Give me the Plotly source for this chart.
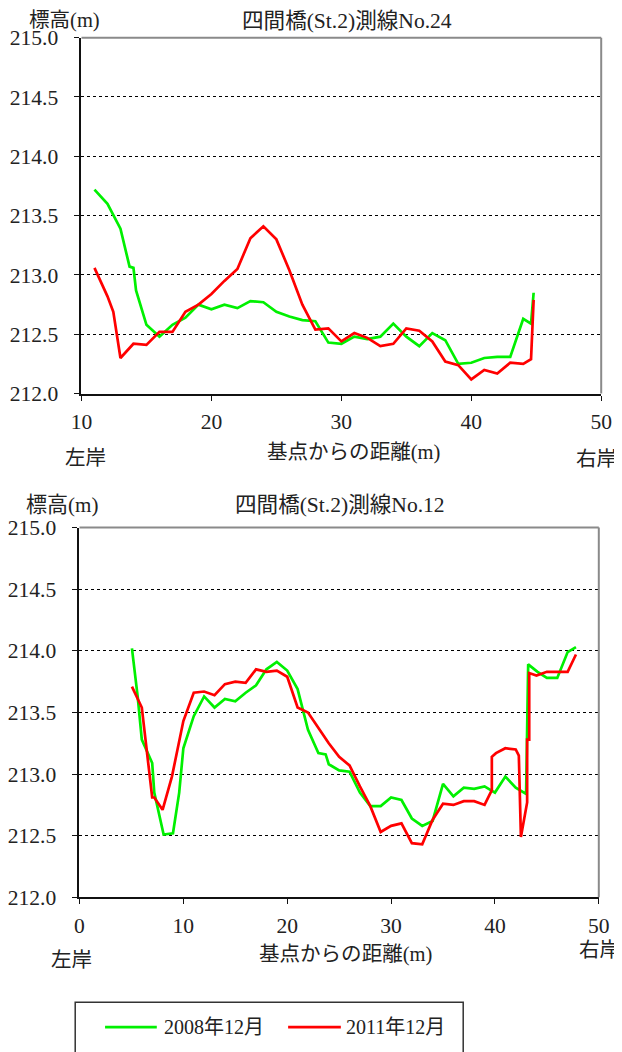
import plotly.graph_objects as go

# ---------- data: 四間橋(St.2) 測線No.24 ----------
no24_x_2008 = [11, 12, 13, 13.7, 14.0, 14.2, 15, 16, 17, 18, 19, 20, 21, 22, 23, 24, 25, 26, 27, 28,
               29, 30, 31, 32, 33, 34, 35, 36, 37, 38, 39, 40, 41, 42, 43, 44, 44.6, 44.8]
no24_y_2008 = [213.72, 213.60, 213.39, 213.07, 213.06, 212.87, 212.58, 212.48, 212.58, 212.64,
               212.75, 212.71, 212.75, 212.72, 212.78, 212.77, 212.69, 212.65, 212.62, 212.61,
               212.43, 212.42, 212.48, 212.46, 212.48, 212.59, 212.48, 212.40, 212.51, 212.45,
               212.25, 212.26, 212.30, 212.31, 212.31, 212.63, 212.59, 212.85]
no24_x_2011 = [11, 12, 12.45, 13, 14, 15, 16, 17, 18, 19, 20, 21, 22, 23, 24, 25, 26, 27, 28, 29,
               30, 31, 32, 33, 34, 35, 36, 37, 38, 39, 40, 41, 42, 43, 44, 44.6, 44.8]
no24_y_2011 = [213.06, 212.82, 212.69, 212.30, 212.42, 212.41, 212.52, 212.52, 212.69, 212.75,
               212.84, 212.95, 213.05, 213.31, 213.41, 213.30, 213.04, 212.75, 212.54, 212.55,
               212.44, 212.51, 212.47, 212.40, 212.42, 212.55, 212.53, 212.44, 212.27, 212.24,
               212.12, 212.20, 212.17, 212.26, 212.25, 212.29, 212.79]

# ---------- data: 四間橋(St.2) 測線No.12 ----------
no12_x_2008 = [5.05, 5.6, 6.0, 7.0, 7.2, 8.1, 9.0, 9.6, 10, 11, 12, 13, 14, 15, 16, 17, 18, 19, 20,
               21, 22, 23, 23.7, 24, 25, 26, 27, 28, 29, 30, 31, 32, 33, 34, 35, 36, 37, 38, 39,
               40, 41, 42, 43, 43.2, 44.1, 45, 46, 47, 47.8]
no12_y_2008 = [214.02, 213.63, 213.28, 213.09, 212.85, 212.51, 212.52, 212.85, 213.21, 213.47,
               213.63, 213.54, 213.61, 213.59, 213.66, 213.72, 213.85, 213.91, 213.84, 213.69,
               213.36, 213.17, 213.16, 213.08, 213.03, 213.02, 212.85, 212.74, 212.74, 212.81,
               212.79, 212.64, 212.58, 212.62, 212.92, 212.82, 212.89, 212.88, 212.90, 212.85,
               212.98, 212.89, 212.84, 213.89, 213.83, 213.78, 213.78, 213.99, 214.03]
no12_x_2011 = [5.05, 6.0, 7.0, 7.2, 8.0, 8.9, 10, 11, 12, 13, 14, 15, 16, 17, 18, 19, 20, 21, 22,
               23, 24, 25, 26, 27, 28, 29, 30, 31, 32, 33, 34, 35, 36, 37, 38, 39, 39.7, 39.7,
               40.1, 41, 42, 42.3, 42.5, 43.1, 43.1, 43.3, 43.3, 44, 45, 46, 47, 47.8]
no12_y_2011 = [213.71, 213.54, 212.81, 212.81, 212.71, 212.98, 213.43, 213.66, 213.67, 213.64,
               213.73, 213.75, 213.74, 213.85, 213.83, 213.84, 213.79, 213.54, 213.50, 213.37,
               213.25, 213.14, 213.07, 212.90, 212.74, 212.53, 212.58, 212.60, 212.44, 212.43,
               212.63, 212.76, 212.75, 212.78, 212.78, 212.75, 212.87, 213.14, 213.17, 213.21,
               213.20, 213.15, 212.49, 212.77, 213.28, 213.28, 213.82, 213.80, 213.83, 213.83,
               213.83, 213.97]

series_names = ["2008年12月", "2011年12月"]
series_colors = ["#00f000", "#ff0000"]
y_ticks = [212.0, 212.5, 213.0, 213.5, 214.0, 214.5, 215.0]

FONT = "Liberation Serif, Noto Sans CJK JP, serif"
W, H = 622, 1052
# measured mapping from figure pixels to the captured picture: s = a*f + b
AX, BX = 0.968, 17.5
AY, BY = 0.979, 18.0
K = 1 / ((AX + AY) / 2)

def px_x(s):
    return ((s - BX) / AX) / W

def px_y(s):
    return 1 - ((s - BY) / AY) / H

fig = go.Figure()

LW = 2.7
fig.add_trace(go.Scatter(x=no24_x_2008, y=no24_y_2008, mode="lines", name=series_names[0],
                         line=dict(color=series_colors[0], width=LW), xaxis="x", yaxis="y"))
fig.add_trace(go.Scatter(x=no24_x_2011, y=no24_y_2011, mode="lines", name=series_names[1],
                         line=dict(color=series_colors[1], width=LW), xaxis="x", yaxis="y"))
fig.add_trace(go.Scatter(x=no12_x_2008, y=no12_y_2008, mode="lines", name=series_names[0],
                         line=dict(color=series_colors[0], width=LW), xaxis="x2", yaxis="y2"))
fig.add_trace(go.Scatter(x=no12_x_2011, y=no12_y_2011, mode="lines", name=series_names[1],
                         line=dict(color=series_colors[1], width=LW), xaxis="x2", yaxis="y2"))

tickfont = dict(family=FONT, size=21 * K, color="#222")

def xaxis(domain, rng, anchor):
    return dict(domain=domain, range=rng, anchor=anchor, dtick=10, tick0=0,
                showgrid=False, zeroline=False, showline=True, linecolor="#111", linewidth=2,
                ticks="outside", ticklen=5, tickwidth=1, tickcolor="#111",
                ticklabelstandoff=3, tickfont=tickfont, fixedrange=True)

def yaxis(domain, anchor):
    return dict(domain=domain, range=[212.0, 215.0], anchor=anchor, tickvals=y_ticks,
                tickformat=".1f", showgrid=True, gridcolor="#000", griddash="dot", gridwidth=1,
                zeroline=False, showline=True, linecolor="#111", linewidth=2,
                ticks="outside", ticklen=5, tickwidth=1, tickcolor="#111",
                ticklabelstandoff=12, tickfont=tickfont, fixedrange=True)

top_x = [px_x(79.3), px_x(601.7)]
top_y = [px_y(393.3), px_y(36.7)]
bot_x = [px_x(77.3), px_x(599.3)]
bot_y = [px_y(898.0), px_y(527.5)]

shapes = []
for xr, yr in (("x domain", "y domain"), ("x2 domain", "y2 domain")):
    shapes.append(dict(type="line", xref=xr, yref=yr, x0=0, x1=1, y0=1, y1=1,
                       line=dict(color="#8a8a8a", width=2), layer="above"))
    shapes.append(dict(type="line", xref=xr, yref=yr, x0=1, x1=1, y0=0, y1=1,
                       line=dict(color="#8a8a8a", width=2), layer="above"))
# legend frame and legend line samples
shapes.append(dict(type="rect", xref="paper", yref="paper",
                   x0=px_x(73), x1=px_x(463), y0=px_y(1075), y1=px_y(1003),
                   line=dict(color="#333", width=1.5), fillcolor="rgba(0,0,0,0)"))
legend_line_x = [(103, 155), (287, 340)]
legend_text_x = [160, 343]
LEG_Y = 1028
for (xa, xb), col in zip(legend_line_x, series_colors):
    shapes.append(dict(type="line", xref="paper", yref="paper",
                       x0=px_x(xa), x1=px_x(xb), y0=px_y(LEG_Y), y1=px_y(LEG_Y),
                       line=dict(color=col, width=LW)))

def ann(text, x, y, size=20, anchor="center"):
    return dict(text=text, x=px_x(x), y=px_y(y), xref="paper", yref="paper",
                showarrow=False, xanchor=anchor, yanchor="middle",
                font=dict(family=FONT, size=size * K, color="#222"))

annotations = [
    ann("標高(m)", 62, 20, 20),
    ann("四間橋(St.2)測線No.24", 346, 20, 21),
    ann("基点からの距離(m)", 353, 452),
    ann("左岸", 83, 458),
    ann("右岸", 597, 459),
    ann("標高(m)", 60, 505, 20.5),
    ann("四間橋(St.2)測線No.12", 339, 505, 21),
    ann("基点からの距離(m)", 345, 955),
    ann("左岸", 69, 961),
    ann("右岸", 600, 951),
]
for tx, name in zip(legend_text_x, series_names):
    annotations.append(ann(name, tx, LEG_Y, 19.5, "left"))

fig.update_layout(
    width=W, height=H, autosize=False,
    margin=dict(l=0, r=0, t=0, b=0),
    paper_bgcolor="white", plot_bgcolor="white",
    xaxis=xaxis(top_x, [10, 50], "y"),
    yaxis=yaxis(top_y, "x"),
    xaxis2=xaxis(bot_x, [0, 50], "y2"),
    yaxis2=yaxis(bot_y, "x2"),
    shapes=shapes,
    annotations=annotations,
    showlegend=False,
)

fig.write_html("out.html", config={"displayModeBar": False})
